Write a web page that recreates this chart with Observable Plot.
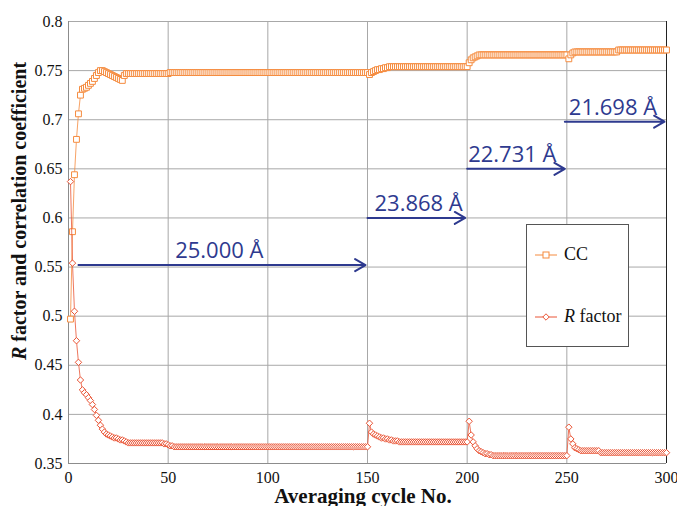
<!DOCTYPE html>
<html>
<head>
<meta charset="utf-8">
<script src="https://cdn.jsdelivr.net/npm/d3@7"></script>
<script src="https://cdn.jsdelivr.net/npm/@observablehq/plot@0.6"></script>
<style>
  html, body { margin: 0; padding: 0; background: #fff; }
  #wrap { position: relative; width: 677px; height: 506px; overflow: hidden; }
  #legend { position: absolute; left: 526px; top: 224px; width: 101px; height: 121px;
    border: 1px solid #555; background: #fff; font-family: "Liberation Serif", "Times New Roman", serif; font-size: 18px; color: #111; }
  #legend .item { position: absolute; left: 8px; display: flex; align-items: center; }
  #legend .item span { margin-left: 7px; }
</style>
</head>
<body>
<div id="wrap"></div>
<script>
// ---- data ----
const ccValues = [
  0.497,0.586,0.644,0.680,0.706,0.725,0.731,0.732,0.733,0.735,
  0.737,0.739,0.742,0.745,0.748,0.750,0.750,0.749,0.748,0.747,
  0.746,0.745,0.744,0.743,0.742,0.741,0.740,0.745,0.747,0.747,
  0.747,0.747,0.747,0.747,0.747,0.747,0.747,0.747,0.747,0.747,
  0.747,0.747,0.747,0.747,0.747,0.747,0.747,0.747,0.747,0.747,
  0.748,0.748,0.748,0.748,0.748,0.748,0.748,0.748,0.748,0.748,
  0.748,0.748,0.748,0.748,0.748,0.748,0.748,0.748,0.748,0.748,
  0.748,0.748,0.748,0.748,0.748,0.748,0.748,0.748,0.748,0.748,
  0.748,0.748,0.748,0.748,0.748,0.748,0.748,0.748,0.748,0.748,
  0.748,0.748,0.748,0.748,0.748,0.748,0.748,0.748,0.748,0.748,
  0.748,0.748,0.748,0.748,0.748,0.748,0.748,0.748,0.748,0.748,
  0.748,0.748,0.748,0.748,0.748,0.748,0.748,0.748,0.748,0.748,
  0.748,0.748,0.748,0.748,0.748,0.748,0.748,0.748,0.748,0.748,
  0.748,0.748,0.748,0.748,0.748,0.748,0.748,0.748,0.748,0.748,
  0.748,0.748,0.748,0.748,0.748,0.748,0.748,0.748,0.748,0.748,
  0.746,0.748,0.749,0.750,0.751,0.751,0.752,0.752,0.753,0.753,
  0.754,0.754,0.754,0.754,0.754,0.754,0.754,0.754,0.754,0.754,
  0.754,0.754,0.754,0.754,0.754,0.754,0.754,0.754,0.754,0.754,
  0.754,0.754,0.754,0.754,0.754,0.754,0.754,0.754,0.754,0.754,
  0.754,0.754,0.754,0.754,0.754,0.754,0.754,0.754,0.754,0.754,
  0.758,0.761,0.763,0.764,0.765,0.766,0.766,0.766,0.766,0.766,
  0.766,0.766,0.766,0.766,0.766,0.766,0.766,0.766,0.766,0.766,
  0.766,0.766,0.766,0.766,0.766,0.766,0.766,0.766,0.766,0.766,
  0.766,0.766,0.766,0.766,0.766,0.766,0.766,0.766,0.766,0.766,
  0.766,0.766,0.766,0.766,0.766,0.766,0.766,0.766,0.766,0.766,
  0.762,0.766,0.768,0.769,0.769,0.769,0.769,0.769,0.769,0.769,
  0.769,0.769,0.769,0.769,0.769,0.769,0.769,0.769,0.769,0.769,
  0.769,0.769,0.769,0.769,0.769,0.771,0.771,0.771,0.771,0.771,
  0.771,0.771,0.771,0.771,0.771,0.771,0.771,0.771,0.771,0.771,
  0.771,0.771,0.771,0.771,0.771,0.771,0.771,0.771,0.771,0.771
];
const rValues = [
  0.637,0.554,0.505,0.475,0.453,0.435,0.425,0.422,0.420,0.417,
  0.414,0.410,0.405,0.399,0.394,0.389,0.385,0.382,0.380,0.379,
  0.378,0.377,0.376,0.376,0.375,0.374,0.374,0.373,0.372,0.371,
  0.371,0.371,0.371,0.371,0.371,0.371,0.371,0.371,0.371,0.371,
  0.371,0.371,0.371,0.371,0.371,0.371,0.371,0.370,0.370,0.369,
  0.368,0.368,0.367,0.367,0.367,0.367,0.367,0.367,0.367,0.367,
  0.367,0.367,0.367,0.367,0.367,0.367,0.367,0.367,0.367,0.367,
  0.367,0.367,0.367,0.367,0.367,0.367,0.367,0.367,0.367,0.367,
  0.367,0.367,0.367,0.367,0.367,0.367,0.367,0.367,0.367,0.367,
  0.367,0.367,0.367,0.367,0.367,0.367,0.367,0.367,0.367,0.367,
  0.367,0.367,0.367,0.367,0.367,0.367,0.367,0.367,0.367,0.367,
  0.367,0.367,0.367,0.367,0.367,0.367,0.367,0.367,0.367,0.367,
  0.367,0.367,0.367,0.367,0.367,0.367,0.367,0.367,0.367,0.367,
  0.367,0.367,0.367,0.367,0.367,0.367,0.367,0.367,0.367,0.367,
  0.367,0.367,0.367,0.367,0.367,0.367,0.367,0.367,0.367,0.367,
  0.391,0.382,0.380,0.379,0.378,0.377,0.376,0.376,0.375,0.375,
  0.374,0.374,0.373,0.373,0.373,0.372,0.372,0.372,0.372,0.372,
  0.372,0.372,0.372,0.372,0.372,0.372,0.372,0.372,0.372,0.372,
  0.372,0.372,0.372,0.372,0.372,0.372,0.372,0.372,0.372,0.372,
  0.372,0.372,0.372,0.372,0.372,0.372,0.372,0.372,0.372,0.372,
  0.393,0.379,0.372,0.368,0.365,0.363,0.362,0.361,0.360,0.360,
  0.359,0.359,0.358,0.358,0.358,0.358,0.358,0.358,0.358,0.358,
  0.358,0.358,0.358,0.358,0.358,0.358,0.358,0.358,0.358,0.358,
  0.358,0.358,0.358,0.358,0.358,0.358,0.358,0.358,0.358,0.358,
  0.358,0.358,0.358,0.358,0.358,0.358,0.358,0.358,0.358,0.358,
  0.387,0.375,0.370,0.366,0.365,0.364,0.363,0.363,0.363,0.363,
  0.363,0.363,0.363,0.363,0.363,0.363,0.361,0.361,0.361,0.361,
  0.361,0.361,0.361,0.361,0.361,0.361,0.361,0.361,0.361,0.361,
  0.361,0.361,0.361,0.361,0.361,0.361,0.361,0.361,0.361,0.361,
  0.361,0.361,0.361,0.361,0.361,0.361,0.361,0.361,0.361,0.361
];
const xTicks = [0, 50, 100, 150, 200, 250, 300];
const yTicks = [0.35, 0.4, 0.45, 0.5, 0.55, 0.6, 0.65, 0.7, 0.75, 0.8];
const arrowStart = [5, 150, 200, 249];
const arrowEnd = [149, 199, 249, 299];
const arrowLevel = [0.552, 0.600, 0.650, 0.698];
const arrowLabel = ["25.000 Å", "23.868 Å", "22.731 Å", "21.698 Å"];
const arrowLabelX = [53.5, 153.5, 200.5, 251];

// ---- build tables ----
const cc = ccValues.map((v, i) => ({cycle: i + 1, value: v}));
const rf = rValues.map((v, i) => ({cycle: i + 1, value: v}));
const arrows = arrowLabel.map((t, i) => ({x1: arrowStart[i], x2: arrowEnd[i], y: arrowLevel[i], lx: arrowLabelX[i], label: t}));

const ccColor = "#f58b3e";
const rColor = "#ea5536";
const blue = "#2e3a8f";
const grid = "#a8a8a8";
const serif = "Liberation Serif, Times New Roman, serif";
const sans = "Open Sans, sans-serif";

const chart = Plot.plot({
  width: 677, height: 506,
  marginLeft: 68, marginRight: 11, marginTop: 21, marginBottom: 43,
  style: {fontSize: "16px", color: "#111", background: "#fff"},
  x: {domain: [0, 300]},
  y: {domain: [0.35, 0.8]},
  marks: [
    Plot.gridX(xTicks, {stroke: grid, strokeOpacity: 1}),
    Plot.gridY(yTicks, {stroke: grid, strokeOpacity: 1}),
    Plot.ruleX([0], {stroke: "#8c8c8c"}),
    Plot.ruleY([0.35], {stroke: "#8c8c8c"}),
    Plot.ruleX([300], {stroke: "#222"}),
    Plot.axisX({ticks: xTicks, tickSize: 0, tickPadding: 8, label: null, tickFormat: d => String(d)}),
    Plot.axisY({ticks: yTicks, tickSize: 0, tickPadding: 6, label: null, tickFormat: d => String(+d.toFixed(2))}),
    Plot.line(cc, {x: "cycle", y: "value", stroke: ccColor, strokeWidth: 1, strokeOpacity: 0.8}),
    Plot.dot(cc, {x: "cycle", y: "value", symbol: "square", r: 3.3, stroke: ccColor, fill: "white", strokeWidth: 1}),
    Plot.line(rf, {x: "cycle", y: "value", stroke: rColor, strokeWidth: 1, strokeOpacity: 0.8}),
    Plot.dot(rf, {x: "cycle", y: "value", symbol: "diamond2", r: 2.9, stroke: rColor, fill: "white", strokeWidth: 1}),
    Plot.arrow(arrows, {x1: "x1", x2: "x2", y1: "y", y2: "y", stroke: blue, strokeWidth: 2, headLength: 9}),
    Plot.text(arrows, {x: "lx", y: "y", text: "label", textAnchor: "start", lineAnchor: "bottom", dy: -7,
      fill: blue, fontSize: 22, fontFamily: sans})
  ]
});

const wrap = document.getElementById("wrap");
wrap.appendChild(chart);

const svg = d3.select(chart);
// fonts: every text serif except the arrow labels
svg.selectAll("text").each(function() {
  const isLabel = arrowLabel.includes(this.textContent);
  this.style.fontFamily = isLabel ? sans : serif;
  if (!isLabel) this.style.fontSize = "16px";
});

// y-axis title with italic R
const yt = svg.append("text")
  .attr("transform", "translate(26,211) rotate(-90)")
  .attr("text-anchor", "middle")
  .style("font-family", serif)
  .attr("font-size", 20)
  .attr("font-weight", "bold")
  .attr("fill", "#111");
yt.append("tspan").attr("font-style", "italic").text("R");
yt.append("tspan").text(" factor and correlation coefficient");
// x-axis title
svg.append("text")
  .attr("x", 363).attr("y", 503)
  .attr("text-anchor", "middle")
  .style("font-family", serif)
  .attr("font-size", 21)
  .attr("font-weight", "bold")
  .attr("fill", "#111")
  .text("Averaging cycle No.");

// legend
const legend = document.createElement("div");
legend.id = "legend";
legend.innerHTML = `
  <div class="item" style="top:19px">
    <svg width="22" height="20"><line x1="0" y1="10" x2="22" y2="10" stroke="${ccColor}" stroke-width="1"/>
    <rect x="8" y="7" width="6" height="6" fill="white" stroke="${ccColor}"/></svg><span>CC</span></div>
  <div class="item" style="top:81px">
    <svg width="22" height="20"><line x1="0" y1="10" x2="22" y2="10" stroke="${rColor}" stroke-width="1"/>
    <path d="M11,6.8L14.2,10L11,13.2L7.8,10Z" fill="white" stroke="${rColor}"/></svg><span><i>R</i> factor</span></div>`;
wrap.appendChild(legend);
</script>
</body>
</html>
